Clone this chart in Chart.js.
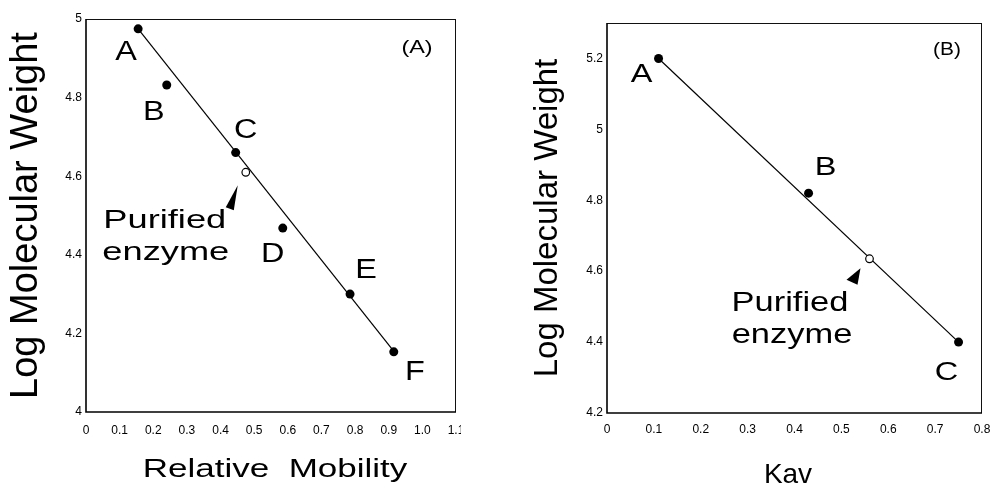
<!DOCTYPE html>
<html><head><meta charset="utf-8">
<script src="https://cdn.jsdelivr.net/npm/chart.js@4/dist/chart.umd.min.js"></script>
<style>
html,body{margin:0;padding:0;background:#fff;}
#wrap{position:relative;width:991px;height:486px;overflow:hidden;background:#fff;}
#cA{position:absolute;left:0;top:0;}
#cB{position:absolute;left:520px;top:0;}
</style></head><body>
<div id="wrap"><canvas id="cA" width="461" height="486"></canvas><canvas id="cB" width="471" height="486"></canvas></div>
<script>
// ---------- Panel (A): SDS-PAGE calibration ----------
const standardNamesA = ['A', 'B', 'C', 'D', 'E', 'F'];
const mobilityA = [0.155, 0.24, 0.445, 0.585, 0.785, 0.915];
const logMwA = [4.975, 4.832, 4.66, 4.468, 4.30, 4.153];
const enzymeMobilityA = [0.475];
const enzymeLogMwA = [4.61];
const fitMobilityA = [0.155, 0.91];
const fitLogMwA = [4.975, 4.16];
const xTicksA = [0, 0.1, 0.2, 0.3, 0.4, 0.5, 0.6, 0.7, 0.8, 0.9, 1.0, 1.1];
const xTickLabelsA = ['0', '0.1', '0.2', '0.3', '0.4', '0.5', '0.6', '0.7', '0.8', '0.9', '1.0', '1.1'];
const yTicksA = [4, 4.2, 4.4, 4.6, 4.8, 5];
const yTickLabelsA = ['4', '4.2', '4.4', '4.6', '4.8', '5'];

// ---------- Panel (B): gel filtration calibration ----------
const standardNamesB = ['A', 'B', 'C'];
const kavB = [0.11, 0.43, 0.75];
const logMwB = [5.2, 4.82, 4.40];
const enzymeKavB = [0.56];
const enzymeLogMwB = [4.635];
const fitKavB = [0.11, 0.75];
const fitLogMwB = [5.2, 4.40];
const xTicksB = [0, 0.1, 0.2, 0.3, 0.4, 0.5, 0.6, 0.7, 0.8];
const xTickLabelsB = ['0', '0.1', '0.2', '0.3', '0.4', '0.5', '0.6', '0.7', '0.8'];
const yTicksB = [4.2, 4.4, 4.6, 4.8, 5, 5.2];
const yTickLabelsB = ['4.2', '4.4', '4.6', '4.8', '5', '5.2'];

const SANS = "'Liberation Sans', Arial, Helvetica, sans-serif";
const TICK_FONT = { family: "'Liberation Sans Narrow', 'Liberation Sans', Arial, sans-serif", size: 12 };

function pts(xs, ys) { return xs.map((x, i) => ({ x: x, y: ys[i] })); }

function wideText(ctx, text, x, y, size, sx, align) {
  ctx.save();
  ctx.translate(x, y);
  ctx.scale(sx, 1);
  ctx.font = size + 'px ' + SANS;
  ctx.fillStyle = '#000';
  ctx.textAlign = align || 'center';
  ctx.textBaseline = 'alphabetic';
  ctx.fillText(text, 0, 0);
  ctx.restore();
}

const framePlugin = {
  id: 'frame',
  beforeDatasetsDraw(chart) {
    const { ctx, chartArea: { left, right, top, bottom } } = chart;
    ctx.save();
    ctx.strokeStyle = '#111';
    ctx.lineWidth = 1;
    ctx.beginPath();
    ctx.moveTo(left, top + 0.5); ctx.lineTo(right, top + 0.5);
    ctx.moveTo(right - 0.5, top); ctx.lineTo(right - 0.5, bottom);
    ctx.stroke();
    ctx.strokeStyle = '#000';
    ctx.lineWidth = 1.6;
    ctx.beginPath();
    ctx.moveTo(left, top); ctx.lineTo(left, bottom); ctx.lineTo(right, bottom);
    ctx.stroke();
    ctx.restore();
  }
};

function makeAnnot(cfg) {
  return {
    id: 'annot',
    afterDatasetsDraw(chart) {
      const ctx = chart.ctx;
      const xs = chart.scales.x, ys = chart.scales.y;
      const ca = chart.chartArea;
      cfg.names.forEach((n, i) => {
        const px = xs.getPixelForValue(cfg.xs[i]);
        const py = ys.getPixelForValue(cfg.ys[i]);
        const o = cfg.nameOffsets[i];
        wideText(ctx, n, px + o[0], py + o[1], cfg.nameSize, cfg.nameSx, 'center');
      });
      const ex = xs.getPixelForValue(cfg.ex), ey = ys.getPixelForValue(cfg.ey);
      cfg.enzymeText.forEach((t, i) => {
        const o = cfg.enzymeTextOffsets[i];
        wideText(ctx, t, ex + o[0], ey + o[1], cfg.enzymeSize, cfg.enzymeSx, 'center');
      });
      const a = cfg.arrow;
      ctx.save();
      ctx.fillStyle = '#000';
      ctx.beginPath();
      ctx.moveTo(ex + a[0][0], ey + a[0][1]);
      ctx.lineTo(ex + a[1][0], ey + a[1][1]);
      ctx.lineTo(ex + a[2][0], ey + a[2][1]);
      ctx.closePath();
      ctx.fill();
      ctx.restore();
      wideText(ctx, cfg.tag, ca.right + cfg.tagPos[0], ca.top + cfg.tagPos[1], cfg.tagSize, cfg.tagSx, 'center');
      wideText(ctx, cfg.xTitle, (ca.left + ca.right) / 2 + cfg.xTitlePos[0], ca.bottom + cfg.xTitlePos[1], cfg.xTitleSize, cfg.xTitleSx, 'center');
    }
  };
}

function buildChart(canvasId, d) {
  return new Chart(document.getElementById(canvasId), {
    type: 'scatter',
    data: {
      datasets: [
        { label: 'Standards', data: pts(d.xs, d.ys), pointRadius: 4.5, pointHoverRadius: 4.5,
          backgroundColor: '#000', borderColor: '#000', borderWidth: 0 },
        { label: 'Purified enzyme', data: pts([d.ex], [d.ey]), pointRadius: 3.8, pointHoverRadius: 3.8,
          backgroundColor: '#fff', borderColor: '#000', borderWidth: 1.2 },
        { label: 'Fit', data: pts(d.fitX, d.fitY), showLine: true, pointRadius: 0,
          borderColor: '#000', borderWidth: 1.2, backgroundColor: '#000' }
      ]
    },
    options: {
      responsive: false,
      animation: false,
      devicePixelRatio: 1,
      events: [],
      layout: { padding: d.padding },
      plugins: { legend: { display: false }, tooltip: { enabled: false } },
      scales: {
        x: {
          type: 'linear', min: d.xMin, max: d.xMax,
          grid: { display: false, drawTicks: false }, border: { display: false },
          afterBuildTicks: s => { s.ticks = d.xTicks.map(v => ({ value: v })); },
          afterFit: s => { s.height = d.xHeight; s.paddingLeft = 0; s.paddingRight = 0; },
          ticks: { font: TICK_FONT, color: '#000', padding: d.xTickPad, maxRotation: 0, autoSkip: false,
                   callback: (v, i) => d.xTickLabels[i] }
        },
        y: {
          type: 'linear', min: d.yMin, max: d.yMax,
          grid: { display: false, drawTicks: false }, border: { display: false },
          afterBuildTicks: s => { s.ticks = d.yTicks.map(v => ({ value: v })); },
          afterFit: s => { s.width = d.yWidth; },
          ticks: { font: TICK_FONT, color: '#000', padding: 4, autoSkip: false,
                   callback: (v, i) => d.yTickLabels[i] },
          title: { display: true, text: 'Log Molecular Weight', color: '#000',
                   font: { family: SANS, size: d.yTitleSize }, padding: { top: d.yTitlePad, bottom: 0 } }
        }
      }
    },
    plugins: [framePlugin, makeAnnot(d.annot)]
  });
}

buildChart('cA', {
  xs: mobilityA, ys: logMwA, ex: enzymeMobilityA[0], ey: enzymeLogMwA[0],
  fitX: fitMobilityA, fitY: fitLogMwA,
  xMin: 0, xMax: 1.1, yMin: 4, yMax: 5,
  xTicks: xTicksA, xTickLabels: xTickLabelsA, yTicks: yTicksA, yTickLabels: yTickLabelsA,
  padding: { top: 19, right: 2, left: 0, bottom: 0 },
  xHeight: 74, yWidth: 86, xTickPad: 11, yTitleSize: 38, yTitlePad: 4,
  annot: {
    names: standardNamesA, xs: mobilityA, ys: logMwA,
    nameOffsets: [[-12, 31], [-13, 35], [10, -15], [-10, 34], [16, -16], [21, 28]],
    nameSize: 27, nameSx: 1.2,
    ex: enzymeMobilityA[0], ey: enzymeLogMwA[0],
    enzymeText: ['Purified', 'enzyme'], enzymeTextOffsets: [[-81, 56], [-80, 88]],
    enzymeSize: 25, enzymeSx: 1.45,
    arrow: [[-8, 13], [-20, 35], [-12, 38]],
    tag: '(A)', tagPos: [-39, 34], tagSize: 18, tagSx: 1.3,
    xTitle: 'Relative  Mobility', xTitlePos: [4, 65], xTitleSize: 25, xTitleSx: 1.4
  }
});

buildChart('cB', {
  xs: kavB, ys: logMwB, ex: enzymeKavB[0], ey: enzymeLogMwB[0],
  fitX: fitKavB, fitY: fitLogMwB,
  xMin: 0, xMax: 0.8, yMin: 4.2, yMax: 5.3,
  xTicks: xTicksB, xTickLabels: xTickLabelsB, yTicks: yTicksB, yTickLabels: yTickLabelsB,
  padding: { top: 23, right: 9, left: 0, bottom: 0 },
  xHeight: 73, yWidth: 87, xTickPad: 9, yTitleSize: 33, yTitlePad: 8,
  annot: {
    names: standardNamesB, xs: kavB, ys: logMwB,
    nameOffsets: [[-17, 24], [17, -18], [-12, 38]],
    nameSize: 25, nameSx: 1.3,
    ex: enzymeKavB[0], ey: enzymeLogMwB[0],
    enzymeText: ['Purified', 'enzyme'], enzymeTextOffsets: [[-79.5, 52], [-77.5, 84]],
    enzymeSize: 28, enzymeSx: 1.23,
    arrow: [[-9, 9.5], [-23, 21], [-12, 26]],
    tag: '(B)', tagPos: [-35, 32], tagSize: 19, tagSx: 1.1,
    xTitle: 'Kav', xTitlePos: [-6.5, 70], xTitleSize: 28, xTitleSx: 1.0
  }
});
</script>
</body></html>
